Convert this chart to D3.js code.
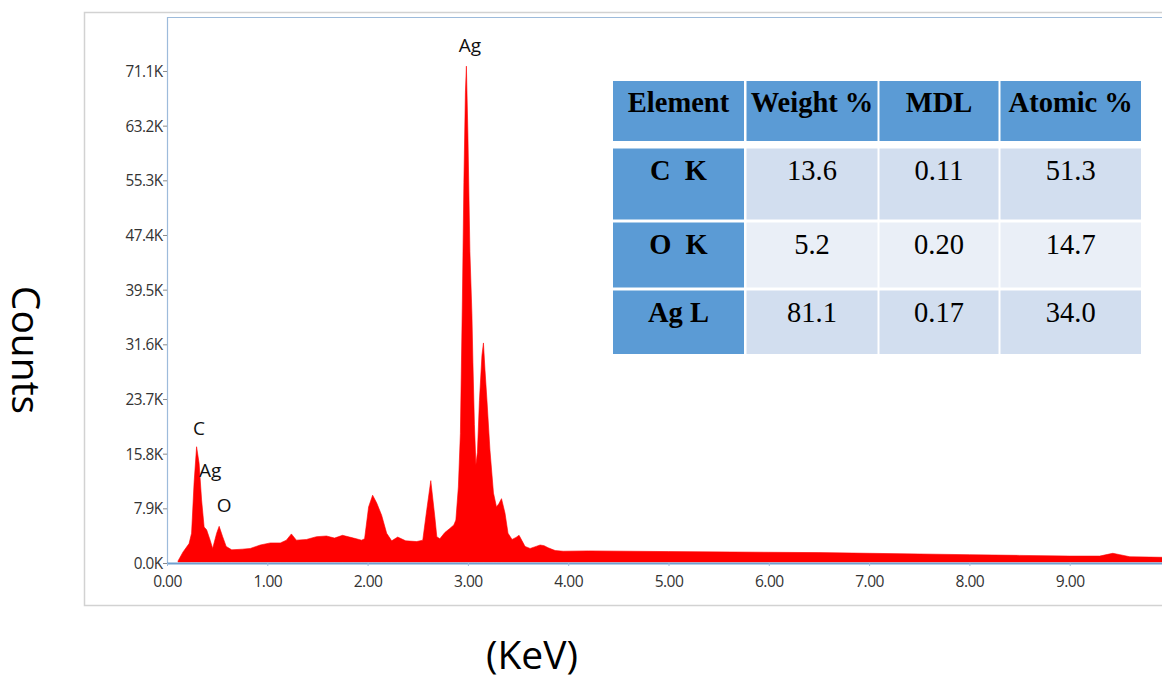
<!DOCTYPE html>
<html>
<head>
<meta charset="utf-8">
<script src="https://cdn.jsdelivr.net/npm/d3@7"></script>
<style>
  html, body { margin: 0; padding: 0; background: #fff; }
  svg { display: block; }
</style>
</head>
<body>
<svg id="chart" width="1162" height="679"></svg>
<script>
// ---- data (keV, kilo-counts) ----
const energy = [0.11,0.16,0.22,0.245,0.27,0.295,0.32,0.345,0.37,0.395,0.43,0.455,0.495,0.52,0.555,0.59,0.645,0.75,0.83,0.93,1.03,1.13,1.19,1.24,1.29,1.39,1.49,1.59,1.67,1.75,1.86,1.94,
  1.97,2.01,2.05,2.09,2.14,2.19,2.24,2.30,2.38,2.49,2.55,2.59,2.63,2.67,2.69,2.72,2.77,2.82,2.86,2.88,2.905,2.925,2.945,2.96,2.975,2.985,3.0,3.02,3.04,3.05,3.065,3.08,3.095,3.115,3.14,3.155,3.17,3.19,3.22,3.255,3.285,3.31,3.335,3.37,3.40,3.44,3.48,3.51,3.54,3.57,3.62,3.68,3.72,3.76,3.80,3.87,3.95,
  4.2,5.0,6.0,6.5,7.0,7.5,8.0,8.5,9.0,9.3,9.38,9.43,9.5,9.6,9.8,9.95];
const counts = [0.3,1.6,2.8,4.3,11.6,16.8,14.4,9.1,5.2,4.8,3.3,2.1,4.3,5.3,3.8,2.4,1.9,2.0,2.1,2.6,2.9,2.9,3.3,4.2,3.3,3.4,3.8,3.9,3.6,4.0,3.6,3.3,
  3.5,8.1,9.8,8.7,6.9,4.3,3.2,3.75,3.2,3.1,3.3,7.7,11.9,6.7,3.8,3.5,4.4,5.0,5.5,6.2,11.0,18.7,38.0,55.0,68.0,71.8,62.0,45.0,36.0,29.0,20.0,14.2,16.0,23.5,30.0,31.8,28.0,23.5,16.3,10.1,8.1,8.6,9.3,7.2,4.3,3.4,3.7,4.0,3.2,2.4,2.1,2.4,2.6,2.5,2.2,1.8,1.7,
  1.75,1.65,1.55,1.5,1.4,1.3,1.2,1.1,1.0,1.0,1.25,1.4,1.2,0.9,0.85,0.82];

const yTicks = [0, 7.9, 15.8, 23.7, 31.6, 39.5, 47.4, 55.3, 63.2, 71.1];
const xTicks = [0, 1, 2, 3, 4, 5, 6, 7, 8, 9];

const peakNames = ["Ag", "C", "Ag", "O"];
const peakEnergy = [3.02, 0.32, 0.43, 0.57];
const peakLabelCounts = [73.8, 18.5, 12.4, 7.4];

const tableHeaders = ["Element", "Weight %", "MDL", "Atomic %"];
const tableElements = ["C  K", "O  K", "Ag L"];
const weightPct = [13.6, 5.2, 81.1];
const mdl = [0.11, 0.20, 0.17];
const atomicPct = [51.3, 14.7, 34.0];

// ---- layout ----
const svg = d3.select("#chart");
const plotLeft = 167, plotTop = 17, plotBottom = 563;
const x = d3.scaleLinear().domain([0, 10]).range([plotLeft, plotLeft + 1003]);
const y = d3.scaleLinear().domain([0, 78.9]).range([plotBottom, plotTop]);

const axisColor = "#9dbbdb";
const labelColor = "#333333";

// outer frame
svg.append("rect").attr("x", 84.5).attr("y", 12.5).attr("width", 1100).attr("height", 593)
  .attr("fill", "none").attr("stroke", "#d2d2d2").attr("stroke-width", 1.5);

// plot top border
svg.append("line").attr("x1", plotLeft).attr("x2", 1162).attr("y1", plotTop + 0.5).attr("y2", plotTop + 0.5)
  .attr("stroke", axisColor).attr("stroke-width", 1.2);

// spectrum
const pts = energy.map((e, i) => [e, counts[i]]);
const area = d3.area()
  .x(d => x(d[0]))
  .y0(y(0) - 1)
  .y1(d => y(d[1]))
  .curve(d3.curveLinear);
svg.append("path").datum(pts).attr("d", area).attr("fill", "#ff0000").attr("stroke", "#ff0000").attr("stroke-width", 0.6);

// y axis
const yAxis = svg.append("g").attr("transform", `translate(${plotLeft},0)`)
  .call(d3.axisLeft(y).tickValues(yTicks).tickSize(4).tickFormat(d => d.toFixed(1) + "K"));
yAxis.select(".domain").attr("stroke", axisColor).attr("stroke-width", 1.2).attr("d", `M0.5,${plotTop}V${plotBottom}`);
yAxis.selectAll(".tick line").attr("stroke", "#8a8a8a");
yAxis.selectAll(".tick text")
  .attr("fill", labelColor).attr("font-family", "'Open Sans', sans-serif").attr("font-size", 17)
  .attr("x", -5).attr("letter-spacing", -0.6).attr("transform", "scale(0.9,1)");

// x axis
const xAxis = svg.append("g").attr("transform", `translate(0,${plotBottom})`)
  .call(d3.axisBottom(x).tickValues(xTicks).tickSize(3).tickFormat(d => d.toFixed(2)));
xAxis.select(".domain").attr("stroke", "#6f9fd0").attr("stroke-width", 2).attr("d", `M${plotLeft},0.5H1162`);
xAxis.selectAll(".tick line").attr("stroke", axisColor);
xAxis.selectAll(".tick text")
  .attr("fill", labelColor).attr("font-family", "'Open Sans', sans-serif").attr("font-size", 17)
  .attr("y", 12).attr("letter-spacing", -0.6).attr("transform", "scale(0.92,1)");

// peak labels
svg.append("g").selectAll("text").data(peakNames).join("text")
  .attr("x", (d, i) => x(peakEnergy[i]))
  .attr("y", (d, i) => y(peakLabelCounts[i]))
  .attr("text-anchor", "middle")
  .attr("font-family", "'Open Sans', sans-serif").attr("font-size", 19)
  .attr("fill", "#111")
  .text(d => d);

// axis titles
svg.append("text").attr("transform", "translate(27,350) rotate(90)")
  .attr("text-anchor", "middle").attr("dominant-baseline", "central")
  .attr("font-family", "'Open Sans', sans-serif").attr("font-size", 39).attr("fill", "#000")
  .text("Counts");
svg.append("text").attr("x", 532).attr("y", 669)
  .attr("text-anchor", "middle")
  .attr("font-family", "'Open Sans', sans-serif").attr("font-size", 39).attr("fill", "#000")
  .text("(KeV)");

// ---- table ----
const colLeft = [613, 746.5, 879.5, 1000.5];
const colWidth = [131, 131, 119, 140.5];
const rowTop = [81, 148.5, 222.5, 290.5];
const rowHeight = [60, 71, 65, 63.5];
const headBlue = "#5b9bd5";
const bodyDark = "#d2deef";
const bodyLight = "#eaeff7";

const rows = [tableHeaders].concat(tableElements.map((el, i) => [
  el, weightPct[i].toFixed(1), mdl[i].toFixed(2), atomicPct[i].toFixed(1)
]));

const tbl = svg.append("g").attr("font-family", "'Liberation Serif', 'Times New Roman', serif");
rows.forEach((row, r) => {
  row.forEach((val, c) => {
    let fill;
    if (r === 0 || c === 0) fill = headBlue;
    else fill = (r % 2 === 1) ? bodyDark : bodyLight;
    tbl.append("rect")
      .attr("x", colLeft[c]).attr("y", rowTop[r])
      .attr("width", colWidth[c]).attr("height", rowHeight[r])
      .attr("fill", fill);
    tbl.append("text")
      .attr("x", colLeft[c] + colWidth[c] / 2)
      .attr("y", rowTop[r] + 31)
      .attr("text-anchor", "middle")
      .attr("font-size", 28.5)
      .attr("font-weight", (r === 0 || c === 0) ? "bold" : "normal")
      .attr("fill", "#000")
      .style("white-space", "pre")
      .text(val);
  });
});
</script>
</body>
</html>
